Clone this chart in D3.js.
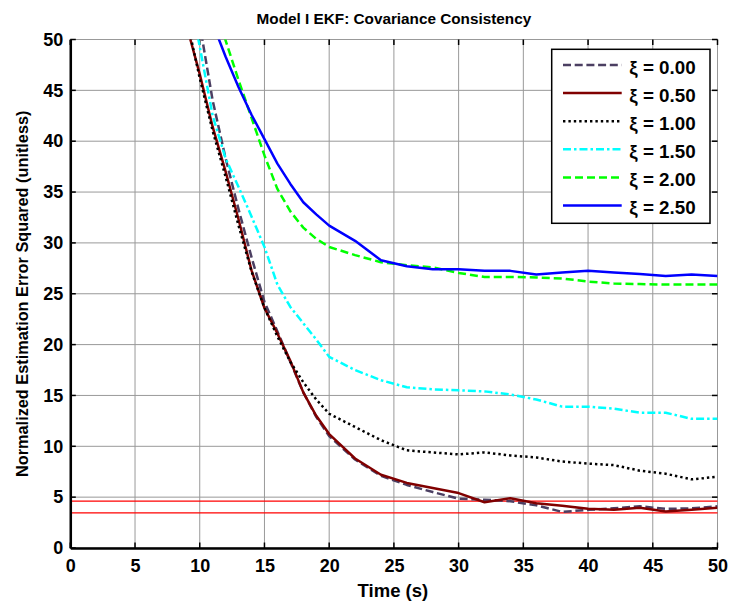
<!DOCTYPE html>
<html><head><meta charset="utf-8">
<script src="https://cdn.jsdelivr.net/npm/d3@7"></script>
<style>
body{margin:0;background:#fff}
svg{display:block}
text{font-family:"Liberation Sans",Arial,sans-serif;font-weight:bold;fill:#000}
</style>
</head><body>
<svg id="chart" width="730" height="605"></svg>
<script>
// ---------- data ----------
const time   = [8,9,10,11,12,13,14,15,16,17,18,19,20,22,24,26,28,30,32,34,36,38,40,42,44,46,48,50];
const xi000  = [63,57,51.5,44,38.3,33.3,28.6,24.2,21.3,18.3,15.3,12.9,11.0,8.7,7.1,6.2,5.5,4.85,4.75,4.6,4.2,3.55,3.75,3.9,4.1,3.85,3.9,4.1];
const xi050  = [56.5,51.3,46.6,41.4,37.0,32.3,27.3,23.6,21.1,18.4,15.3,13.0,11.2,8.8,7.2,6.4,5.9,5.4,4.5,4.9,4.4,4.15,3.85,3.75,3.95,3.6,3.75,3.95];
const xi100  = [58,52,46.2,41,36.5,31.7,27.2,23.6,20.8,18.3,16.3,14.6,13.2,11.9,10.6,9.6,9.4,9.2,9.4,9.1,8.9,8.5,8.3,8.15,7.6,7.3,6.75,7.0];
const xi150  = [63,56,49.3,42.5,38.3,35.5,32.6,29.6,25.9,23.7,22.1,20.5,18.8,17.5,16.5,15.8,15.6,15.5,15.4,15.1,14.6,13.9,13.9,13.7,13.3,13.3,12.7,12.7];
const xi200  = [66,62,58,54,49.9,46,42.3,38.6,35.3,33.1,31.5,30.4,29.6,28.8,28.1,27.8,27.6,27.05,26.65,26.65,26.6,26.5,26.2,26.0,25.95,25.9,25.9,25.9];
const xi250  = [62,58.5,55,51.6,48.3,45.3,42.6,40.2,37.8,35.8,34.0,32.8,31.7,30.2,28.3,27.7,27.4,27.4,27.25,27.25,26.9,27.1,27.25,27.1,26.95,26.75,26.9,26.75];
const seriesLabels = ["ξ = 0.00","ξ = 0.50","ξ = 1.00","ξ = 1.50","ξ = 2.00","ξ = 2.50"];
const boundValues = [4.6, 3.45];
const xTicks = [0,5,10,15,20,25,30,35,40,45,50];
const yTicks = [0,5,10,15,20,25,30,35,40,45,50];
const titleText = "Model I EKF: Covariance Consistency";
const xLabelText = "Time (s)";
const yLabelText = "Normalized Estimation Error Squared (unitless)";

const seriesData = [xi000, xi050, xi100, xi150, xi200, xi250];
const styles = [
  {color:"#4b3f62", dash:"8,3.7"},
  {color:"#800000", dash:null},
  {color:"#000000", dash:"2.4,3"},
  {color:"#00ffff", dash:"8,3,2.5,3"},
  {color:"#00ff00", dash:"8,4"},
  {color:"#0000ff", dash:null}
];

// ---------- layout ----------
const L = 70.3, R = 717.5, T = 39.5, B = 548;
const svg = d3.select("#chart");

const x = d3.scaleLinear().domain([0,50]).range([L,R]);
const y = d3.scaleLinear().domain([0,50]).range([B,T]);

// grid
const grid = svg.append("g");
grid.selectAll("line.gx").data(xTicks).join("line")
  .attr("x1",d=>x(d)).attr("x2",d=>x(d)).attr("y1",T).attr("y2",B)
  .attr("stroke","#999").attr("stroke-width",1);
grid.selectAll("line.gy").data(yTicks).join("line")
  .attr("y1",d=>y(d)).attr("y2",d=>y(d)).attr("x1",L).attr("x2",R)
  .attr("stroke","#999").attr("stroke-width",1);

// inward ticks
const tk = 5.5;
const ticks = svg.append("g").attr("stroke","#000").attr("stroke-width",1.5);
ticks.selectAll("line.tt").data(xTicks).join("line")
  .attr("x1",d=>x(d)).attr("x2",d=>x(d)).attr("y1",T).attr("y2",T+tk);
ticks.selectAll("line.tb").data(xTicks).join("line")
  .attr("x1",d=>x(d)).attr("x2",d=>x(d)).attr("y1",B).attr("y2",B-tk);
ticks.selectAll("line.tl").data(yTicks).join("line")
  .attr("y1",d=>y(d)).attr("y2",d=>y(d)).attr("x1",L).attr("x2",L+tk);
ticks.selectAll("line.tr").data(yTicks).join("line")
  .attr("y1",d=>y(d)).attr("y2",d=>y(d)).attr("x1",R).attr("x2",R-tk);

// clip
svg.append("clipPath").attr("id","clip").append("rect")
  .attr("x",L).attr("y",T).attr("width",R-L).attr("height",B-T);

// bound lines
svg.append("g").selectAll("line").data(boundValues).join("line")
  .attr("x1",L).attr("x2",R).attr("y1",d=>y(d)).attr("y2",d=>y(d))
  .attr("stroke","#ff0000").attr("stroke-width",1.3);

// series
const line = d3.line().x((d,i)=>x(time[i])).y(d=>y(d));
const lines = svg.append("g").attr("clip-path","url(#clip)");
seriesData.forEach((s,k)=>{
  lines.append("path").datum(s).attr("d",line)
    .attr("fill","none").attr("stroke",styles[k].color).attr("stroke-width",2.5)
    .attr("stroke-dasharray",styles[k].dash).attr("stroke-linejoin","round");
});

// axes (thick left & bottom)
const xAxis = d3.axisBottom(x).tickValues(xTicks).tickSize(0).tickPadding(11).tickFormat(d3.format("d"));
const yAxis = d3.axisLeft(y).tickValues(yTicks).tickSize(0).tickPadding(7).tickFormat(d3.format("d"));
const gx = svg.append("g").attr("transform",`translate(0,${B})`).call(xAxis);
const gy = svg.append("g").attr("transform",`translate(${L},0)`).call(yAxis);
[gx,gy].forEach(g=>{
  g.select(".domain").attr("stroke","#000").attr("stroke-width",2.5);
  g.selectAll("text").style("font-size","18px").style("font-family","'Liberation Sans',Arial,sans-serif").style("font-weight","bold");
});
gx.selectAll("text").attr("dy","0.71em");

// titles
svg.append("text").attr("x",(L+R)/2).attr("y",24).attr("text-anchor","middle")
  .style("font-size","15.3px").text(titleText);
svg.append("text").attr("x",(L+R)/2 - 1).attr("y",597).attr("text-anchor","middle")
  .style("font-size","18.5px").text(xLabelText);
svg.append("text").attr("transform",`translate(28,${(T+B)/2}) rotate(-90)`).attr("text-anchor","middle")
  .style("font-size","16.3px").text(yLabelText);

// legend
const lg = svg.append("g");
const lx0 = 551.7, ly0 = 49.3, lw = 158.3, lh = 174;
lg.append("rect").attr("x",lx0).attr("y",ly0).attr("width",lw).attr("height",lh)
  .attr("fill","#fff").attr("stroke","#000").attr("stroke-width",1.5);
seriesLabels.forEach((lab,k)=>{
  const cy = ly0 + 15.7 + k*28.1;
  lg.append("line").attr("x1",lx0+11.3).attr("x2",lx0+70).attr("y1",cy).attr("y2",cy)
    .attr("stroke",styles[k].color).attr("stroke-width",2.5).attr("stroke-dasharray",styles[k].dash);
  lg.append("text").attr("x",lx0+77.6).attr("y",cy+8.5).style("font-size","18.8px")
    .attr("xml:space","preserve").text(lab);
});
</script>
</body></html>
